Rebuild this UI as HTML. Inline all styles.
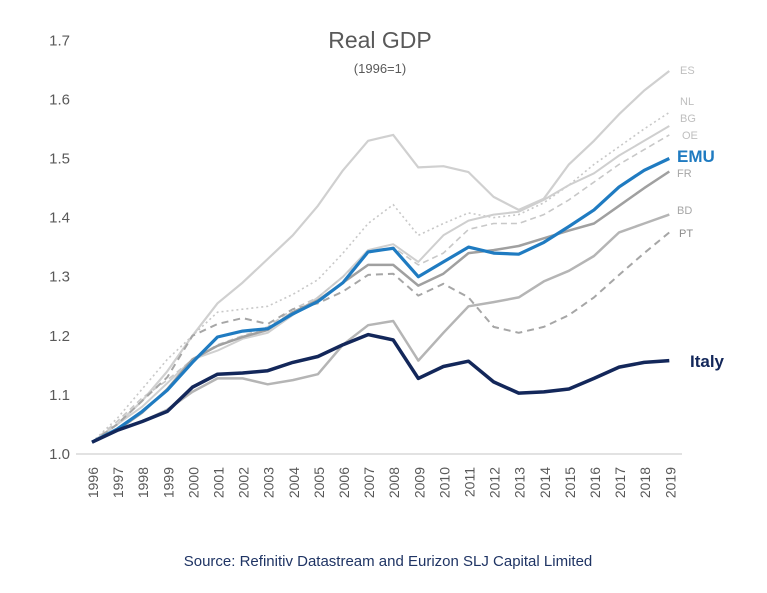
<!DOCTYPE html>
<html><head><meta charset="utf-8"><style>
body{margin:0;background:#fff;}
svg{display:block;font-family:"Liberation Sans",sans-serif;}
</style></head><body>
<svg id="chart" width="767" height="593" viewBox="0 0 767 593">
<text x="380" y="48" text-anchor="middle" font-size="23" fill="#595959">Real GDP</text>
<text x="380" y="73" text-anchor="middle" font-size="13" fill="#595959">(1996=1)</text>
<line x1="76" y1="454" x2="682" y2="454" stroke="#d9d9d9" stroke-width="1.5"/>
<g id="yt"></g><g id="xt"></g><g id="series"></g><g id="labels"></g>
<text x="388" y="566" text-anchor="middle" font-size="15" fill="#1f3464">Source: Refinitiv Datastream and Eurizon SLJ Capital Limited</text>
</svg>
<script>
const years=[1996,1997,1998,1999,2000,2001,2002,2003,2004,2005,2006,2007,2008,2009,2010,2011,2012,2013,2014,2015,2016,2017,2018,2019];
const yTicks=[1.0,1.1,1.2,1.3,1.4,1.5,1.6,1.7];
const es=[1.02,1.05,1.09,1.14,1.2,1.255,1.29,1.33,1.37,1.42,1.48,1.53,1.54,1.485,1.487,1.477,1.435,1.413,1.432,1.49,1.53,1.575,1.615,1.648];
const nl=[1.02,1.06,1.11,1.16,1.2,1.24,1.245,1.25,1.27,1.295,1.34,1.39,1.422,1.37,1.39,1.408,1.40,1.405,1.425,1.455,1.49,1.52,1.55,1.578];
const bg=[1.02,1.05,1.08,1.12,1.16,1.175,1.195,1.205,1.235,1.265,1.30,1.345,1.355,1.325,1.37,1.395,1.405,1.41,1.43,1.455,1.475,1.505,1.53,1.555];
const oe=[1.02,1.055,1.095,1.125,1.16,1.185,1.2,1.215,1.245,1.265,1.3,1.34,1.35,1.32,1.34,1.38,1.39,1.39,1.405,1.43,1.46,1.49,1.515,1.54];
const fr=[1.02,1.04,1.07,1.11,1.16,1.183,1.198,1.21,1.24,1.26,1.29,1.32,1.32,1.285,1.305,1.34,1.345,1.352,1.365,1.378,1.39,1.42,1.45,1.478];
const bd=[1.02,1.04,1.055,1.075,1.105,1.128,1.128,1.118,1.125,1.135,1.185,1.218,1.225,1.158,1.205,1.25,1.257,1.265,1.292,1.31,1.335,1.375,1.39,1.405];
const pt=[1.02,1.05,1.09,1.13,1.20,1.22,1.23,1.22,1.245,1.255,1.275,1.303,1.305,1.268,1.288,1.265,1.215,1.205,1.215,1.235,1.265,1.303,1.34,1.375];
const emu=[1.02,1.042,1.072,1.108,1.155,1.198,1.208,1.212,1.237,1.258,1.29,1.342,1.348,1.30,1.325,1.35,1.340,1.338,1.358,1.385,1.413,1.452,1.480,1.500];
const italy=[1.02,1.04,1.055,1.072,1.113,1.135,1.137,1.141,1.155,1.165,1.185,1.202,1.193,1.128,1.148,1.157,1.122,1.103,1.105,1.110,1.128,1.147,1.155,1.158];

const NS="http://www.w3.org/2000/svg";
const xS=i=>92+i*25.1;
const yS=v=>454-(v-1.0)*591;
function mk(tag,attrs,parent){const e=document.createElementNS(NS,tag);for(const k in attrs)e.setAttribute(k,attrs[k]);document.getElementById(parent).appendChild(e);return e;}

yTicks.forEach(t=>{
  const e=mk('text',{x:70,y:yS(t)+5,'text-anchor':'end','font-size':15,fill:'#595959'},'yt');
  
  
  e.textContent=t.toFixed(1);
});
years.forEach((yr,i)=>{
  const x=xS(i)+6,y=467;
  const e=mk('text',{x:x,y:y,'text-anchor':'end','font-size':14,fill:'#595959',transform:`rotate(-90 ${x} ${y})`},'xt');
  
  
  e.textContent=yr;
});
const defs=[
 [es,'es','#d0d0d0',2.2,''],
 [nl,'nl','#c8c8c8',1.6,'2 3'],
 [bg,'bg','#cfcfcf',2,''],
 [oe,'oe','#c8c8c8',1.6,'6 4'],
 [pt,'pt','#a6a6a6',2,'7 5'],
 [bd,'bd','#b5b5b5',2.5,''],
 [fr,'fr','#a0a0a0',2.5,''],
 [emu,'emu','#1f7bc1',3.2,''],
 [italy,'italy','#13275a',3.5,'']
];
defs.forEach(([d,n,c,w,da])=>{
  const p=mk('path',{d:d.map((v,i)=>(i?'L':'M')+xS(i).toFixed(1)+','+yS(v).toFixed(1)).join(''),fill:'none',stroke:c,'stroke-width':w,'stroke-dasharray':da,'stroke-linejoin':'round'},'series');
  
  
});
const labs=[['ES',74,'#bfbfbf',11,'normal',680],['NL',105,'#bfbfbf',11,'normal',680],['BG',122,'#bfbfbf',11,'normal',680],['OE',139,'#bfbfbf',11,'normal',682],['EMU',162,'#1f7bc1',17,'bold',677],['FR',177,'#a6a6a6',11,'normal',677],['BD',214,'#a6a6a6',11,'normal',677],['PT',237,'#8c8c8c',11,'normal',679],['Italy',367,'#13275a',17,'bold',690]];
labs.forEach(([t,y,c,s,fw,x])=>{
  const e=mk('text',{x:x,y:y,'font-size':s,'font-weight':fw,fill:c},'labels');
  
  
  e.textContent=t;
});
</script>
</body></html>
